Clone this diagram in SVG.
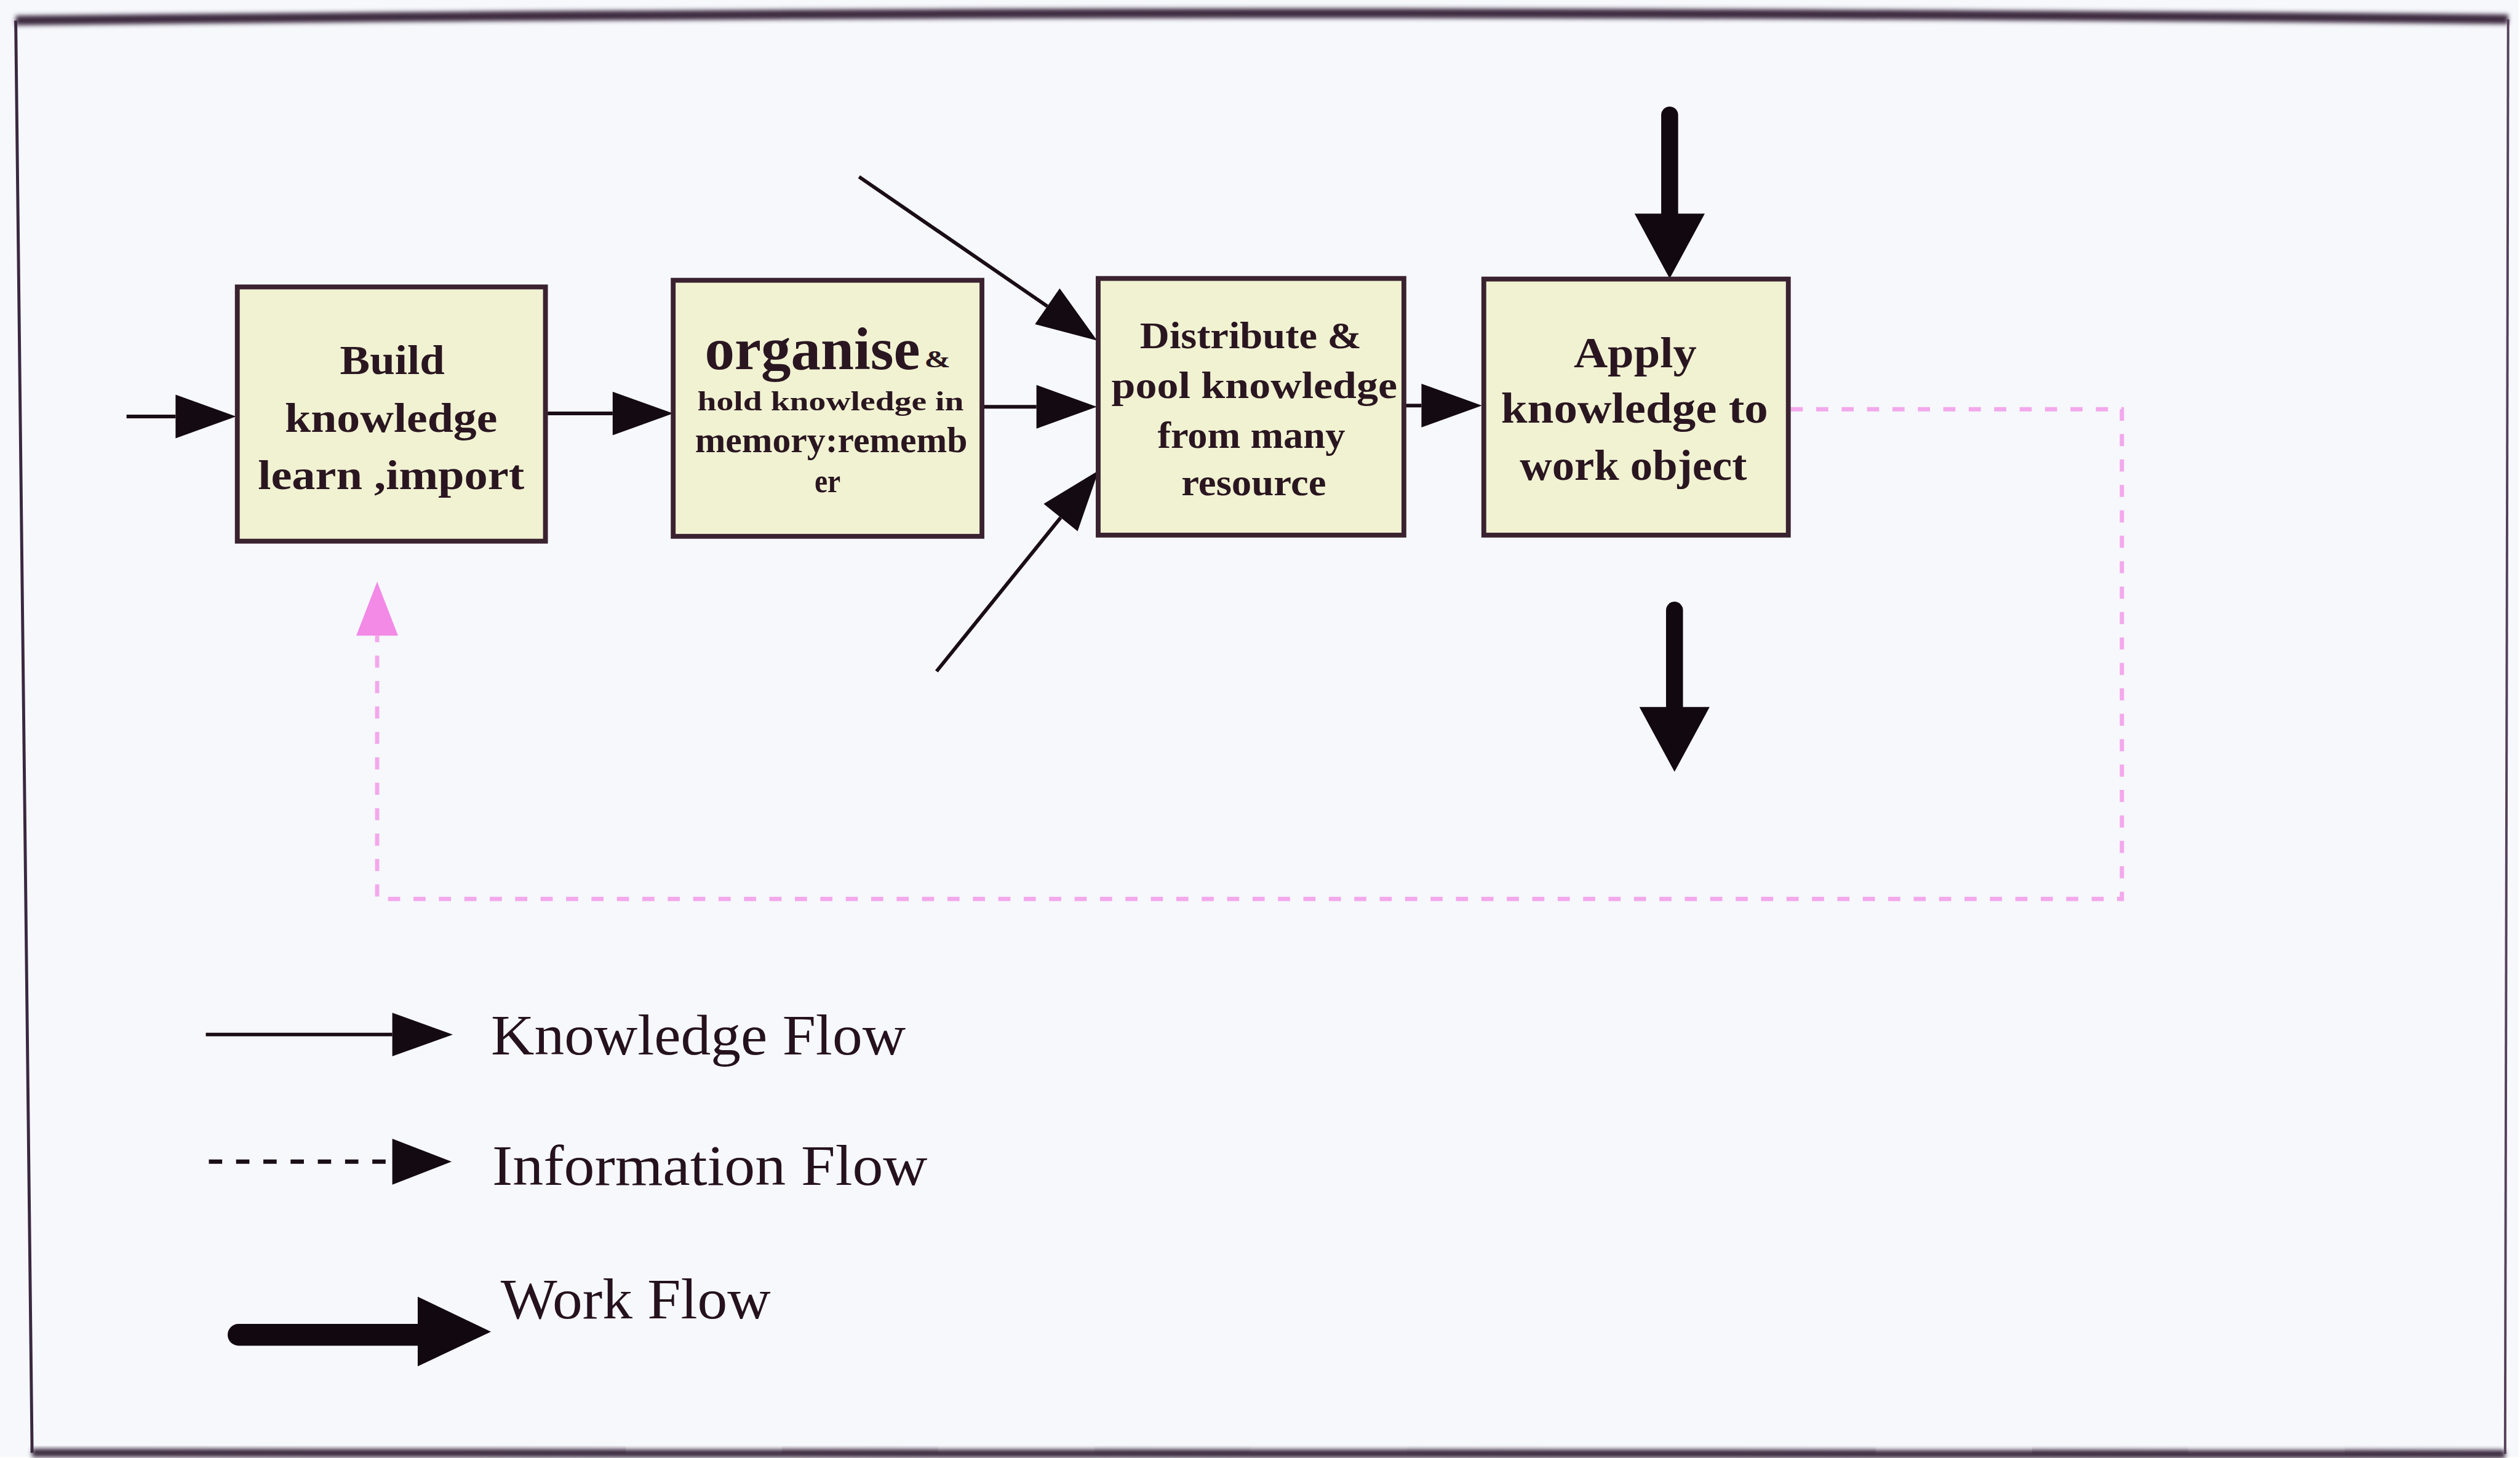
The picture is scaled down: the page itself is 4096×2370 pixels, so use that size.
<svg xmlns="http://www.w3.org/2000/svg" width="4096" height="2370" viewBox="0 0 4096 2370">
  <defs>
    <style>
      .box rect { fill: #f0f2d2; stroke: #3a2230; stroke-width: 8; }
      .box text { font-family: "Liberation Serif", "Times New Roman", serif; font-weight: bold; fill: #2a1620; text-anchor: middle; }
      .k { fill: none; stroke: #1a0d16; stroke-width: 6; }
      .w { fill: none; stroke: #120810; stroke-width: 28; stroke-linecap: round; }
      .info { fill: none; stroke: #f3a8ec; stroke-width: 7; stroke-dasharray: 20 22; }
      .legend text { font-family: "Liberation Serif", "Times New Roman", serif; fill: #25121e; font-size: 94px; }
    </style>
    <filter id="soft" x="-5%" y="-200%" width="110%" height="500%">
      <feGaussianBlur stdDeviation="4"/>
    </filter>
    <!-- knowledge flow head: thin black triangle -->
    <marker id="kHead" markerUnits="userSpaceOnUse" viewBox="0 0 100 72" markerWidth="100" markerHeight="72" refX="0" refY="36" orient="auto" overflow="visible">
      <path d="M0,0 L100,36 L0,72 Z" fill="#140a12"/>
    </marker>
    <!-- work flow head: heavy black triangle -->
    <marker id="wHead" markerUnits="userSpaceOnUse" viewBox="0 0 107 116" markerWidth="107" markerHeight="116" refX="0" refY="58" orient="auto" overflow="visible">
      <path d="M0,0 L107,58 L0,116 Z" fill="#120810"/>
    </marker>
    <!-- information flow head: pink triangle -->
    <marker id="iHead" markerUnits="userSpaceOnUse" viewBox="0 0 89 69" markerWidth="89" markerHeight="69" refX="0" refY="34.5" orient="auto" overflow="visible">
      <path d="M0,0 L89,34.5 L0,69 Z" fill="#f28ae6"/>
    </marker>
  </defs>

  <g transform="scale(0.984)">
    <rect x="0" y="0" width="4160" height="2407" fill="#f6f8fc"/>

    <!-- outer frame -->
    <g id="frame">
      <path d="M26,34 Q2080,11 4143,32" fill="none" stroke="#3e2a40" stroke-width="16" filter="url(#soft)"/>
      <path d="M53,2400 Q2080,2394 4138,2402" fill="none" stroke="#3e2a40" stroke-width="14" filter="url(#soft)"/>
      <path d="M26,34 L53,2400" fill="none" stroke="#3a2840" stroke-width="5"/>
      <path d="M4143,32 L4138,2402" fill="none" stroke="#55405a" stroke-width="4"/>
    </g>

    <!-- connectors -->
    <g id="connectors">
      <!-- knowledge flow -->
      <path class="k" d="M209,688 H290" marker-end="url(#kHead)"/>
      <path class="k" d="M902,683 H1012" marker-end="url(#kHead)"/>
      <path class="k" d="M1622,672 H1712" marker-end="url(#kHead)"/>
      <path class="k" d="M1419,292 L1730,506" marker-end="url(#kHead)"/>
      <path class="k" d="M1547,1109 L1752,855" marker-end="url(#kHead)"/>
      <path class="k" d="M2320,670 H2348" marker-end="url(#kHead)"/>
      <!-- work flow -->
      <path class="w" d="M2758,190 V353" marker-end="url(#wHead)"/>
      <path class="w" d="M2766,1008 V1168" marker-end="url(#wHead)"/>
      <!-- information feedback loop -->
      <path class="info" d="M2958,676 H3505 V1485 H623 V1050" marker-end="url(#iHead)"/>
    </g>

    <!-- process steps -->
    <g id="build" class="box">
      <rect x="392" y="474" width="509" height="420"/>
      <text x="648" y="618" font-size="68" textLength="173" lengthAdjust="spacingAndGlyphs">Build</text>
      <text x="646" y="713" font-size="68" textLength="351" lengthAdjust="spacingAndGlyphs">knowledge</text>
      <text x="646" y="808" font-size="68" textLength="440" lengthAdjust="spacingAndGlyphs">learn ,import</text>
    </g>

    <g id="organise" class="box">
      <rect x="1112" y="463" width="510" height="423"/>
      <text x="1164" y="610" font-size="98" style="text-anchor:start" textLength="356" lengthAdjust="spacingAndGlyphs">organise</text>
      <text x="1527" y="607" font-size="40" style="text-anchor:start" textLength="43" lengthAdjust="spacingAndGlyphs">&amp;</text>
      <text x="1372" y="678" font-size="46" textLength="440" lengthAdjust="spacingAndGlyphs">hold knowledge in</text>
      <text x="1373" y="747" font-size="61" textLength="450" lengthAdjust="spacingAndGlyphs">memory:rememb</text>
      <text x="1367" y="813" font-size="55" textLength="43" lengthAdjust="spacingAndGlyphs">er</text>
    </g>

    <g id="distribute" class="box">
      <rect x="1814" y="460" width="505" height="424"/>
      <text x="2066" y="575" font-size="62" textLength="366" lengthAdjust="spacingAndGlyphs">Distribute &amp;</text>
      <text x="2072" y="658" font-size="62" textLength="472" lengthAdjust="spacingAndGlyphs">pool knowledge</text>
      <text x="2067" y="740" font-size="62" textLength="310" lengthAdjust="spacingAndGlyphs">from many</text>
      <text x="2071" y="818" font-size="62" textLength="239" lengthAdjust="spacingAndGlyphs">resource</text>
    </g>

    <g id="apply" class="box">
      <rect x="2451" y="461" width="503" height="423"/>
      <text x="2701" y="607" font-size="70" textLength="203" lengthAdjust="spacingAndGlyphs">Apply</text>
      <text x="2700" y="698" font-size="70" textLength="441" lengthAdjust="spacingAndGlyphs">knowledge to</text>
      <text x="2698" y="793" font-size="70" textLength="375" lengthAdjust="spacingAndGlyphs">work object</text>
    </g>

    <!-- key -->
    <g id="legend" class="legend">
      <path class="k" d="M340,1709 H648" marker-end="url(#kHead)"/>
      <text x="811" y="1742" textLength="685" lengthAdjust="spacingAndGlyphs">Knowledge Flow</text>
      <path d="M345,1919 H640" fill="none" stroke="#1a0d16" stroke-width="7" stroke-dasharray="22 23"/>
      <path d="M648,1881 L746,1919 L648,1957 Z" fill="#140a12"/>
      <text x="813" y="1957" textLength="719" lengthAdjust="spacingAndGlyphs">Information Flow</text>
      <path d="M394,2205 H693" fill="none" stroke="#120810" stroke-width="36" stroke-linecap="round"/>
      <path d="M690,2142 L811,2200 L690,2257 Z" fill="#120810"/>
      <text x="827" y="2178" textLength="446" lengthAdjust="spacingAndGlyphs">Work Flow</text>
    </g>
  </g>
</svg>
